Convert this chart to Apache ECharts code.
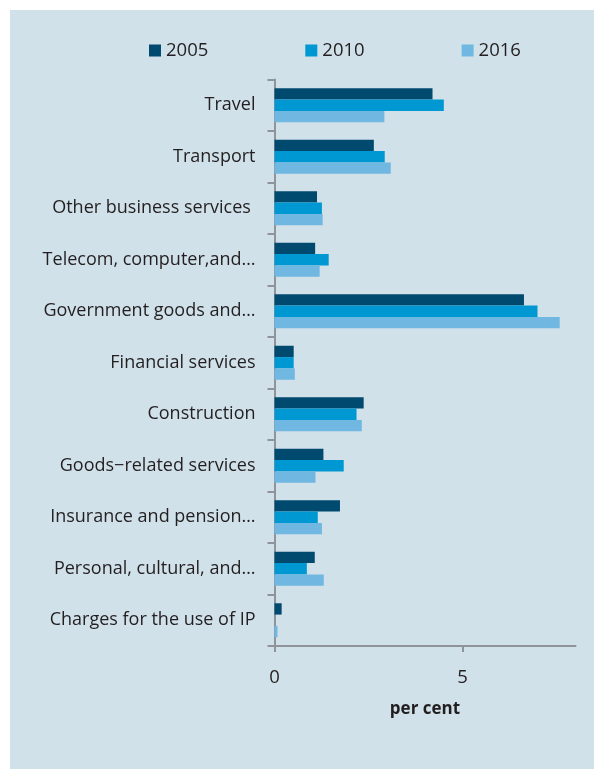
<!DOCTYPE html>
<html>
<head>
<meta charset="utf-8">
<script src="https://cdn.jsdelivr.net/npm/echarts@6/dist/echarts.min.js"></script>
<style>
  html, body { margin: 0; padding: 0; background: #ffffff; }
  #chart { width: 594px; height: 769px; }
</style>
</head>
<body>
<div id="chart"></div>
<script>
// Service categories, top to bottom
const categories = [
  'Travel',
  'Transport',
  'Other business services ',
  'Telecom, computer,and…',
  'Government goods and…',
  'Financial services',
  'Construction',
  'Goods\u2212related services',
  'Insurance and pension…',
  'Personal, cultural, and…',
  'Charges for the use of IP'
];

// Shares in per cent, by year
const years = ['2005', '2010', '2016'];
const values2005 = [4.20, 2.64, 1.13, 1.08, 6.63, 0.51, 2.37, 1.30, 1.74, 1.07, 0.19];
const values2010 = [4.50, 2.93, 1.26, 1.44, 6.99, 0.51, 2.18, 1.84, 1.15, 0.86, 0.00];
const values2016 = [2.92, 3.09, 1.28, 1.20, 7.58, 0.54, 2.32, 1.09, 1.26, 1.31, 0.08];

// Value axis labels
const xTicks = [0, 5];

const colors = ['#00496F', '#0098D2', '#70B7E1'];
const textColor = '#231F20';
const axisColor = '#8E9497';
const fontFamily = "'Open Sans', 'Noto Sans', sans-serif";

const chart = echarts.init(document.getElementById('chart'), null, { renderer: 'canvas' });

const seriesData = [values2005, values2010, values2016];

chart.setOption({
  backgroundColor: '#ffffff',
  animation: false,
  graphic: [{
    type: 'rect',
    z: -10,
    shape: { x: 10, y: 10, width: 584, height: 759 },
    style: { fill: '#D0E1EA' }
  }],
  legend: {
    left: 144,
    top: 36,
    itemWidth: 12,
    itemHeight: 12,
    itemGap: 97,
    icon: 'rect',
    textStyle: { color: textColor, fontSize: 18.5, fontFamily: fontFamily, padding: [0, 0, 0, 0] },
    data: years
  },
  grid: {
    left: 274.5,
    top: 79.5,
    width: 301,
    height: 566.5,
    containLabel: false
  },
  xAxis: {
    type: 'value',
    min: 0,
    max: 8,
    interval: 5,
    name: 'per cent',
    nameLocation: 'middle',
    nameGap: 55,
    nameTextStyle: { color: textColor, fontSize: 17, fontWeight: 'bold', fontFamily: fontFamily },
    axisLine: { show: true, lineStyle: { color: axisColor, width: 2 } },
    axisTick: { show: true, length: 6, customValues: xTicks, lineStyle: { color: axisColor, width: 2 } },
    axisLabel: { customValues: xTicks, color: textColor, fontSize: 18.5, fontFamily: fontFamily, margin: 22 },
    splitLine: { show: false }
  },
  yAxis: {
    type: 'category',
    inverse: true,
    data: categories,
    axisLine: { show: true, lineStyle: { color: axisColor, width: 2 } },
    axisTick: { show: true, length: 7, alignWithLabel: false, lineStyle: { color: axisColor, width: 2 } },
    axisLabel: { color: textColor, fontSize: 18, fontFamily: fontFamily, margin: 19, padding: [4, 0, 0, 0] }
  },
  series: years.map((y, i) => ({
    name: y,
    type: 'bar',
    data: seriesData[i],
    barGap: '0%',
    barCategoryGap: '34%',
    itemStyle: { color: colors[i] }
  }))
});
</script>
</body>
</html>
